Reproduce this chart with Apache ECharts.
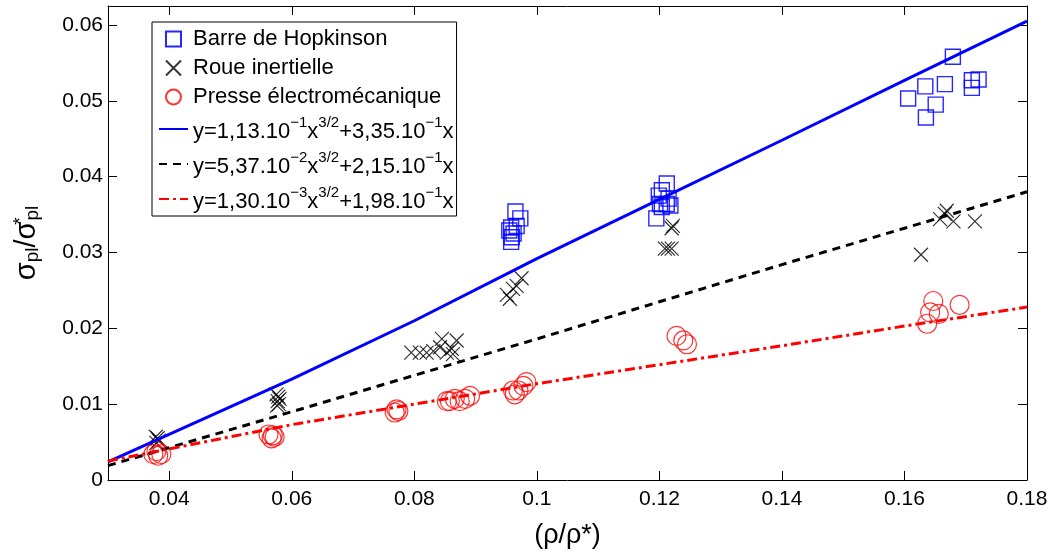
<!DOCTYPE html>
<html><head><meta charset="utf-8">
<script src="https://cdn.jsdelivr.net/npm/echarts@6/dist/echarts.min.js"></script>
<style>html,body{margin:0;padding:0;background:#fff}#c{width:1053px;height:554px}</style>
</head><body><div id="c"></div>
<script>
// ---- data ----
const xTicks = [0.04, 0.06, 0.08, 0.1, 0.12, 0.14, 0.16, 0.18];
const yTicks = [0, 0.01, 0.02, 0.03, 0.04, 0.05, 0.06];

const hopkinsonX = [0.0965,0.0973,0.0958,0.0967,0.0955,0.0959,0.0958,0.0962,
  0.1212,0.1204,0.1199,0.1215,0.1212,0.1201,0.1218,0.1195,0.1204,
  0.1679,0.1634,0.1666,0.1606,0.1651,0.1635,0.1710,0.1721,0.1710];
const hopkinsonY = [0.0354,0.0345,0.0333,0.0335,0.0329,0.0320,0.0314,0.0325,
  0.0391,0.0382,0.0375,0.0371,0.0364,0.0364,0.0362,0.0345,0.0360,
  0.0558,0.0519,0.0522,0.0503,0.0495,0.0478,0.0527,0.0528,0.0517];

const roueX = [0.0378,0.0381,0.0383,0.0379,
  0.0575,0.0578,0.0580,0.0577,0.0579,0.0576,
  0.0795,0.0809,0.0820,0.0831,0.0842,0.0845,0.0853,0.0861,0.0869,0.0863,
  0.0956,0.0961,0.0967,0.0975,0.0951,
  0.1220,0.1222,0.1209,0.1214,0.1220,
  0.1627,0.1669,0.1658,0.1680,0.1715,0.1666];
const roueY = [0.0057,0.0055,0.0052,0.0049,
  0.0113,0.0110,0.0107,0.0104,0.0100,0.0098,
  0.0168,0.0168,0.0168,0.0170,0.0175,0.0186,0.0168,0.0173,0.0184,0.0166,
  0.0239,0.0252,0.0256,0.0266,0.0244,
  0.0332,0.0335,0.0305,0.0305,0.0305,
  0.0297,0.0355,0.0344,0.0341,0.0341,0.0351];

const presseX = [0.0374,0.0382,0.0387,0.0379,
  0.0562,0.0567,0.0572,0.0569,
  0.0771,0.0768,0.0774,
  0.0853,0.0858,0.0866,0.0874,0.0883,0.0891,
  0.0961,0.0964,0.0970,0.0978,0.0983,
  0.1228,0.1239,0.1245,
  0.1647,0.1642,0.1656,0.1637,0.1690];
const presseY = [0.0034,0.0032,0.0034,0.0038,
  0.0060,0.0055,0.0057,0.0059,
  0.0093,0.0089,0.0091,
  0.0104,0.0104,0.0107,0.0104,0.0107,0.0111,
  0.0118,0.0113,0.0118,0.0124,0.0129,
  0.0190,0.0184,0.0179,
  0.0236,0.0221,0.0219,0.0206,0.0231];

const fitX = [0.03, 0.06, 0.08, 0.10, 0.12, 0.14, 0.16, 0.18];
const fitBlueY  = [0.0024, 0.0133, 0.0210, 0.0292, 0.0370, 0.0448, 0.0527, 0.0605];
const fitBlackY = [0.0019, 0.0090, 0.0138, 0.0186, 0.0235, 0.0284, 0.0332, 0.0380];
const fitRedY   = [0.0025, 0.0073, 0.0100, 0.0127, 0.0152, 0.0177, 0.0203, 0.0228];

const seriesNames = ['Barre de Hopkinson', 'Roue inertielle', 'Presse électromécanique',
  'y=1,13.10-1x3/2+3,35.10-1x', 'y=5,37.10-2x3/2+2,15.10-1x', 'y=1,30.10-3x3/2+1,98.10-1x'];
const legendRich = {
  'y=1,13.10-1x3/2+3,35.10-1x': '{e|y=1,13.10}{s|−1}{e|x}{s|3/2}{e|+3,35.10}{s|−1}{e|x}',
  'y=5,37.10-2x3/2+2,15.10-1x': '{e|y=5,37.10}{s|−2}{e|x}{s|3/2}{e|+2,15.10}{s|−1}{e|x}',
  'y=1,30.10-3x3/2+1,98.10-1x': '{e|y=1,30.10}{s|−3}{e|x}{s|3/2}{e|+1,98.10}{s|−1}{e|x}'
};

// ---- chart ----
const FONT = '"Liberation Sans", Arial, sans-serif';
const pairs = (xs, ys) => xs.map((x, i) => [x, ys[i]]);
const fmt = v => String(Math.round(v * 1000) / 1000);
const chart = echarts.init(document.getElementById('c'));

const axisCommon = {
  type: 'value',
  axisLine: { show: true, onZero: false, lineStyle: { color: '#000', width: 1 } },
  splitLine: { show: false }
};
const SQUARE = 'path://M0,0L10,0L10,10L0,10Z';
const CROSS = 'path://M0,0L10,10M10,0L0,10';

chart.setOption({
  animation: false,
  backgroundColor: '#fff',
  textStyle: { fontFamily: FONT },
  grid: { left: 108, right: 26, top: 6, bottom: 73, containLabel: false },
  xAxis: [
    Object.assign({}, axisCommon, {
      min: 0.03, max: 0.18, position: 'bottom',
      axisTick: { show: true, inside: true, length: 9, customValues: xTicks, lineStyle: { color: '#000' } },
      axisLabel: { customValues: xTicks, formatter: fmt, color: '#000', fontSize: 21, fontFamily: FONT, margin: 9 },
      name: '(ρ/ρ*)', nameLocation: 'middle', nameGap: 42,
      nameTextStyle: { color: '#000', fontSize: 27, fontFamily: FONT }
    }),
    Object.assign({}, axisCommon, {
      min: 0.03, max: 0.18, position: 'top',
      axisTick: { show: true, inside: true, length: 9, customValues: xTicks, lineStyle: { color: '#000' } },
      axisLabel: { show: false }
    })
  ],
  yAxis: [
    Object.assign({}, axisCommon, {
      min: 0, max: 0.0625, position: 'left',
      axisTick: { show: true, inside: true, length: 9, customValues: yTicks, lineStyle: { color: '#000' } },
      axisLabel: { customValues: yTicks, formatter: fmt, color: '#000', fontSize: 21, fontFamily: FONT, margin: 5 },
      name: '{m|σ}{b|pl}{m|/σ}{t|*}{b|pl}', nameLocation: 'middle', nameGap: 66, nameRotate: 90,
      nameTextStyle: {
        color: '#000', fontFamily: FONT,
        rich: {
          m: { fontSize: 29, fontFamily: FONT, color: '#000', lineHeight: 29, verticalAlign: 'middle' },
          b: { fontSize: 19, fontFamily: FONT, color: '#000', verticalAlign: 'bottom', padding: [12, 0, 0, 0] },
          t: { fontSize: 19, fontFamily: FONT, color: '#000', verticalAlign: 'top', width: 1 }
        }
      }
    }),
    Object.assign({}, axisCommon, {
      min: 0, max: 0.0625, position: 'right',
      axisTick: { show: true, inside: true, length: 9, customValues: yTicks, lineStyle: { color: '#000' } },
      axisLabel: { show: false }
    })
  ],
  legend: {
    orient: 'vertical', left: 152, top: 22,
    backgroundColor: '#fff', borderColor: '#000', borderWidth: 1, borderRadius: 0,
    padding: [6, 3, 3, 6],
    itemWidth: 29, itemHeight: 15, itemGap: 7,
    data: seriesNames,
    formatter: name => legendRich[name] || name,
    textStyle: {
      fontFamily: FONT, fontSize: 22, color: '#000',
      rich: {
        e: { fontSize: 22, fontFamily: FONT, color: '#000', lineHeight: 22, verticalAlign: 'bottom' },
        s: { fontSize: 15, fontFamily: FONT, color: '#000', verticalAlign: 'top', padding: [0, 0, 13, 0] }
      }
    }
  },
  series: [
    {
      name: seriesNames[0], type: 'scatter', symbol: SQUARE, symbolSize: 15,
      data: pairs(hopkinsonX, hopkinsonY),
      itemStyle: { color: 'transparent', borderColor: '#0000ff', borderWidth: 1.4, opacity: 0.85 },
      emphasis: { disabled: true }
    },
    {
      name: seriesNames[1], type: 'scatter', symbol: CROSS, symbolSize: 14,
      data: pairs(roueX, roueY),
      itemStyle: { color: 'transparent', borderColor: '#000', borderWidth: 1.2 },
      emphasis: { disabled: true }
    },
    {
      name: seriesNames[2], type: 'scatter', symbol: 'circle', symbolSize: 19,
      data: pairs(presseX, presseY),
      itemStyle: { color: 'transparent', borderColor: '#ff0000', borderWidth: 1.2 },
      emphasis: { disabled: true }
    },
    {
      name: seriesNames[3], type: 'line', symbol: 'none',
      data: pairs(fitX, fitBlueY),
      lineStyle: { color: '#0000ff', width: 3, type: 'solid' },
      itemStyle: { color: 'transparent', borderWidth: 0 }
    },
    {
      name: seriesNames[4], type: 'line', symbol: 'none',
      data: pairs(fitX, fitBlackY),
      lineStyle: { color: '#000', width: 3, type: [8, 6] },
      itemStyle: { color: 'transparent', borderWidth: 0 }
    },
    {
      name: seriesNames[5], type: 'line', symbol: 'none',
      data: pairs(fitX, fitRedY),
      lineStyle: { color: '#ff0000', width: 3, type: [10, 4, 3, 4] },
      itemStyle: { color: 'transparent', borderWidth: 0 }
    }
  ]
});
</script>
</body></html>
